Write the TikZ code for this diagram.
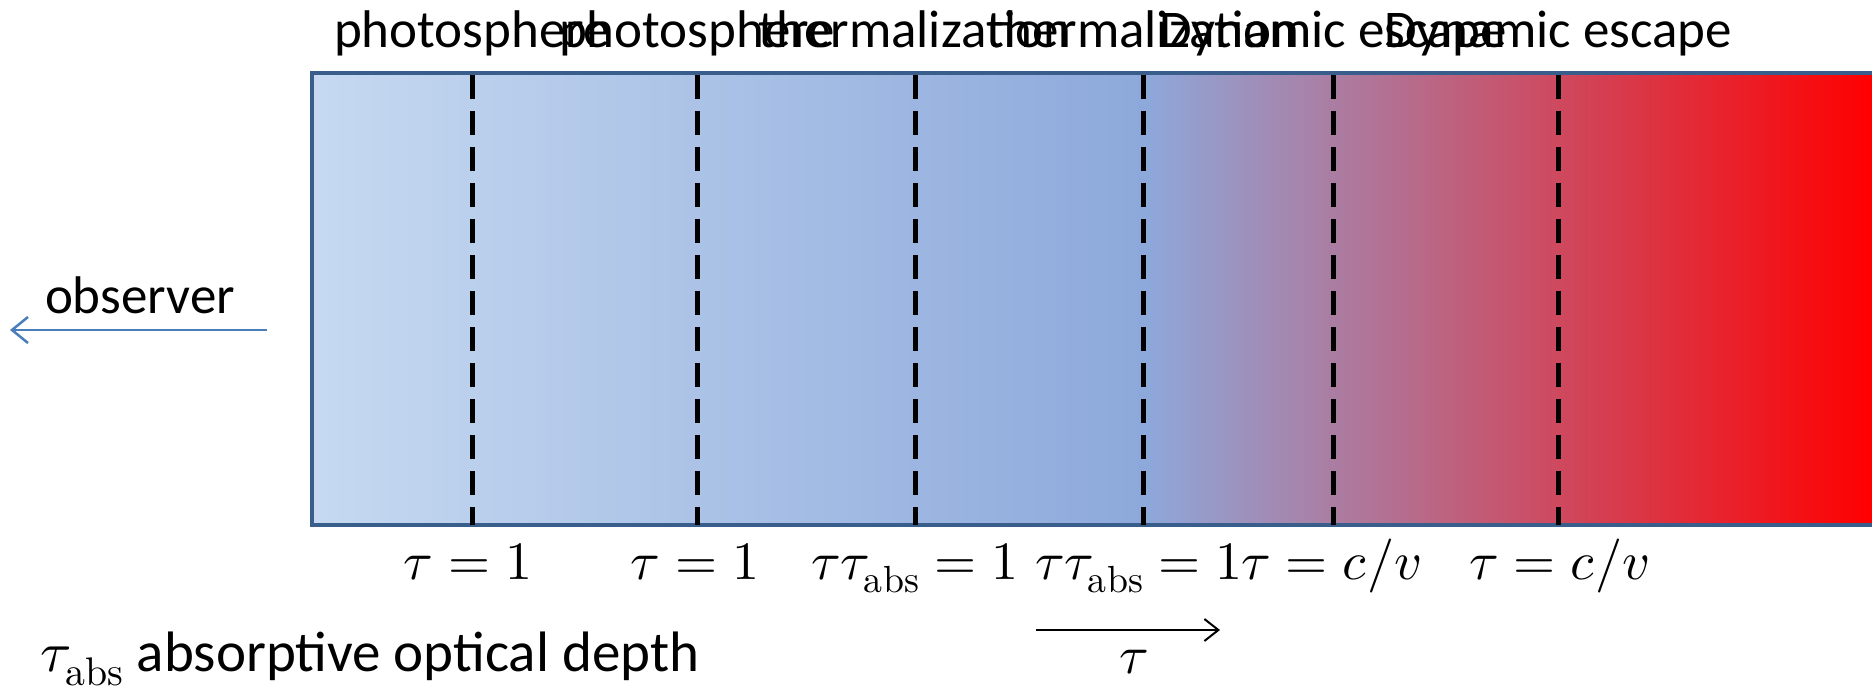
\documentclass[tikz,border=0pt]{standalone}
\usepackage{fontspec}
\usepackage{unicode-math}
\setmainfont{Carlito}
\setmathfont{Latin Modern Math}
\usetikzlibrary{arrows.meta}
\definecolor{bluelight}{RGB}{198,217,241}
\definecolor{bluemid}{RGB}{141,169,219}
\definecolor{pureRed}{RGB}{255,0,0}
\definecolor{borderblue}{RGB}{58,94,140}
\definecolor{obsblue}{RGB}{74,126,187}
\begin{document}
\begin{tikzpicture}[x=1pt,y=-1pt,
  lbl/.style={font=\fontsize{53}{60}\selectfont, anchor=base, inner sep=0pt},
  mlbl/.style={font=\fontsize{54}{60}\selectfont, anchor=base, inner sep=0pt},
  leglbl/.style={font=\fontsize{57}{64}\selectfont, anchor=base west, inner sep=0pt},
  divider/.style={line width=5pt, dash pattern=on 24pt off 12pt, black},
  frame/.style={line width=4.5pt, draw=borderblue},
  obsarrow/.style={line width=2.5pt, draw=obsblue, -{Straight Barb[length=16pt,width=26pt,line width=2.5pt]}},
  tauarrow/.style={line width=2pt, draw=black, -{Straight Barb[length=14pt,width=22pt,line width=2pt]}}]
\useasboundingbox (0,0) rectangle (1872,687);
% gradient body
\shade[left color=bluelight, right color=bluemid] (312,73) rectangle (1143.5,525);
\shade[left color=bluemid, right color=pureRed] (1143,73) rectangle (1872,525);
\draw[frame] (1872,73) -- (312,73) -- (312,525) -- (1872,525);
% divider coordinates
\foreach \n/\x in {a/472,b/697,c/915,d/1143,e/1333,f/1558}{
  \coordinate (\n top) at (\x,75);
  \coordinate (\n bot) at (\x,525);
}
\foreach \n in {a,b,c,d,e,f}{ \draw[divider] (\n top) -- (\n bot); }
% top labels
\node[lbl] (ta) at (472,48) {photosphere};
\node[lbl] (tb) at (697,48) {photosphere};
\node[lbl] (tc) at (915,48) {thermalization};
\node[lbl] (td) at (1143,48) {thermalization};
\node[lbl] (te) at (1333,48) {Dynamic escape};
\node[lbl] (tf) at (1558,48) {Dynamic escape};
% bottom labels
\node[mlbl] (ba) at (468,579) {$\tau=1$};
\node[mlbl] (bb) at (695,579) {$\tau=1$};
\node[mlbl] (bc) at (915,579) {$\tau\tau_{\symup{abs}}=1$};
\node[mlbl] (bd) at (1139,579) {$\tau\tau_{\symup{abs}}=1$};
\node[mlbl] (be) at (1331,579) {$\tau=c/v$};
\node[mlbl] (bf) at (1559,579) {$\tau=c/v$};
% observer
\node[lbl] (obs) at (140,313) {observer};
\coordinate (obsstart) at (267,330);
\coordinate (obsend) at (10,330);
\draw[obsarrow] (obsstart) -- (obsend);
% tau direction
\coordinate (taustart) at (1036,630);
\coordinate (tauend) at (1220,630);
\draw[tauarrow] (taustart) -- (tauend);
\node[mlbl] (tau) at (1134,673) {$\tau$};
% legend
\node[leglbl] (legend) at (40,671) {$\tau_{\symup{abs}}$ absorptive optical depth};
\end{tikzpicture}
\end{document}
